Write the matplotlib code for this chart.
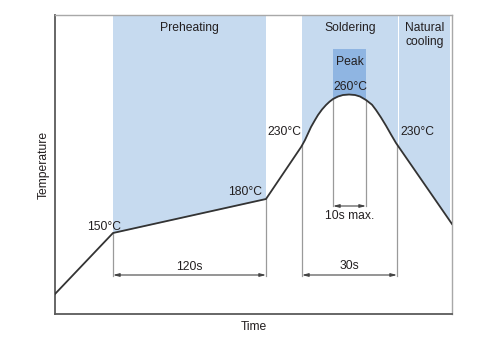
import matplotlib
matplotlib.use("Agg")
import matplotlib.pyplot as plt
import numpy as np

plt.rcParams["font.family"] = ["Liberation Sans", "DejaVu Sans"]

# reflow profile (schematic units: time along x, temperature along y)
profile_t = [0, 58, 211, 246.3, 250, 253, 256, 260, 263, 267, 271, 274.5,
             278, 283, 288, 294, 300, 305, 311, 317, 321, 326, 331, 336,
             341, 397]
profile_T = [20, 81, 115, 167.3, 174, 180.5, 187, 194, 199, 204.5, 209,
             212.3, 215, 217.5, 219, 219.5, 219, 217.5, 214, 209.3, 204,
             196.5, 188.3, 179.5, 171, 90]

# zones
zone_names = ["Preheating", "Soldering", "Natural\ncooling"]
zone_start = [58, 247, 344]
zone_end = [211, 342.5, 395]
peak_start, peak_end, peak_top = 278, 311, 265

# temperature labels
temp_labels = ["150°C", "180°C", "230°C", "260°C", "230°C"]
temp_x = [49, 190.5, 229.5, 295, 362]
temp_y = [87, 122, 182, 227, 182]

# dimension arrows: (x0, x1, y, label, label_y)
dims = [(58, 211, 39, "120s", 47), (247, 342, 39, "30s", 48),
        (278, 311, 108, "10s max.", 98)]

txt = "#231f20"
blue = "#c6daef"
peak_blue = "#8fb5e2"
fs = 8.7

fig = plt.figure(figsize=(4.9, 3.38), dpi=100)
ax = fig.add_axes([55 / 490, 24 / 338, 397 / 490, 299 / 338])
ax.set_xlim(0, 397)
ax.set_ylim(0, 299)

for name, x0, x1 in zip(zone_names, zone_start, zone_end):
    ax.axvspan(x0, x1, color=blue, lw=0, zorder=1)
    ax.text((x0 + x1) / 2, 292, name, ha="center", va="top", fontsize=fs,
            color=txt, linespacing=1.25, zorder=5)
ax.fill_between([peak_start, peak_end], 0, peak_top, color=peak_blue, lw=0, zorder=1.6)
ax.text((peak_start + peak_end) / 2, 252, "Peak", ha="center", va="center",
        fontsize=fs, color=txt, zorder=5)

# white below the curve
ax.fill_between(profile_t, 0, profile_T, color="white", lw=0, zorder=2)
ax.plot(profile_t, profile_T, color="#333333", lw=1.3, zorder=4,
        solid_joinstyle="round")

# vertical reference lines
for x, y_low in [(58, 38), (211, 38), (247, 38), (342, 38), (278, 108), (311, 108)]:
    y_top = np.interp(x, profile_t, profile_T)
    ax.plot([x, x], [y_low, y_top], color="#9a9a9a", lw=0.9, zorder=3)

for x0, x1, y, lab, ly in dims:
    ax.annotate("", xy=(x1, y), xytext=(x0, y),
                arrowprops=dict(arrowstyle="<|-|>,head_length=0.45,head_width=0.12",
                                color="#444444", lw=0.8, shrinkA=0, shrinkB=0,
                                mutation_scale=8), zorder=3)
    ax.text((x0 + x1) / 2, ly, lab, ha="center", va="center", fontsize=fs,
            color=txt, zorder=5)

for lab, x, y in zip(temp_labels, temp_x, temp_y):
    ax.text(x, y, lab, ha="center", va="center", fontsize=fs, color=txt, zorder=5)

ax.set_xticks([])
ax.set_yticks([])
for side in ["left", "bottom"]:
    ax.spines[side].set_color("#5a5a5a")
    ax.spines[side].set_linewidth(1.3)
for side in ["top", "right"]:
    ax.spines[side].set_color("#a8a8a8")
    ax.spines[side].set_linewidth(1.0)

fig.text(44 / 490, 1 - 165 / 338, "Temperature", rotation=90, ha="center",
         va="center", fontsize=fs, color=txt)
fig.text(254 / 490, 1 - 327 / 338, "Time", ha="center", va="center",
         fontsize=fs, color=txt)

fig.savefig("out.png", dpi=100)
